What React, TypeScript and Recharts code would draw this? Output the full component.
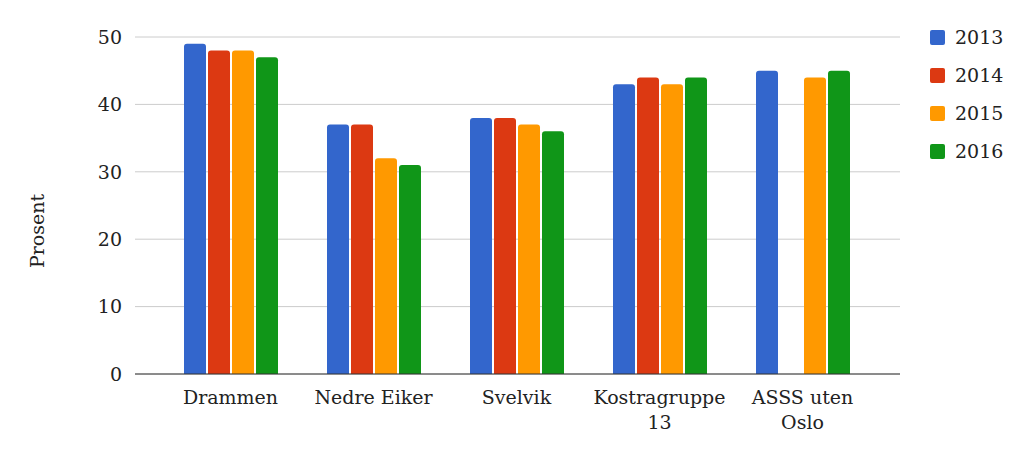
import { BarChart, Bar, XAxis, YAxis, CartesianGrid } from 'recharts'

const categories = ['Drammen', 'Nedre Eiker', 'Svelvik', 'Kostragruppe 13', 'ASSS uten Oslo']
const years = ['2013', '2014', '2015', '2016']
const v2013 = [49, 37, 38, 43, 45]
const v2014: (number | null)[] = [48, 37, 38, 44, null]
const v2015 = [48, 32, 37, 43, 44]
const v2016 = [47, 31, 36, 44, 45]
const yTicks = [0, 10, 20, 30, 40, 50]

const colors = ['#3366CC', '#DC3912', '#FF9900', '#109618']
const font = '"DejaVu Serif", serif'

const data = categories.map((name, i) => ({
  name,
  '2013': v2013[i],
  '2014': v2014[i],
  '2015': v2015[i],
  '2016': v2016[i],
}))

// wrap long category names onto two lines like the original
const lines: Record<string, string[]> = {
  'Kostragruppe 13': ['Kostragruppe', '13'],
  'ASSS uten Oslo': ['ASSS uten', 'Oslo'],
}

function CategoryTick({ x, y, payload }: any) {
  const parts = lines[payload.value] ?? [payload.value]
  return (
    <text x={x} y={y} textAnchor="middle" fontFamily={font} fontSize={19} fill="#222">
      {parts.map((p, i) => (
        <tspan key={i} x={x} dy={i === 0 ? 22 : 25}>{p}</tspan>
      ))}
    </text>
  )
}

function YLabel() {
  return (
    <text x={44} y={231} transform="rotate(-90 44 231)" textAnchor="middle" fontFamily={font} fontSize={19} fill="#222">
      Prosent
    </text>
  )
}

function LegendBox() {
  return (
    <div style={{ position: 'absolute', left: 930, top: 18, fontFamily: font, fontSize: 19, color: '#222' }}>
      {years.map((y, i) => (
        <div key={y} style={{ display: 'flex', alignItems: 'center', height: 38 }}>
          <span style={{ width: 15, height: 15, background: colors[i], borderRadius: 2, marginRight: 10, display: 'inline-block' }} />
          <span>{y}</span>
        </div>
      ))}
    </div>
  )
}

export default function App() {
  return (
    <div style={{ position: 'absolute', left: 0, top: 0, width: 1024, height: 460, background: '#fff' }}>
      <BarChart
        width={1024}
        height={460}
        data={data}
        margin={{ top: 37, right: 124, bottom: 56, left: 0 }}
        barCategoryGap={25}
        barGap={2}
      >
        <CartesianGrid vertical={false} stroke="#cccccc" />
        <XAxis
          dataKey="name"
          height={30}
          tick={<CategoryTick />}
          tickLine={false}
          axisLine={{ stroke: '#333' }}
          padding={{ left: 24, right: 26 }}
          interval={0}
        />
        <YAxis
          width={135}
          domain={[0, 50]}
          ticks={yTicks}
          tickLine={false}
          axisLine={false}
          tickSize={0}
          tickMargin={13}
          tick={{ fontFamily: font, fontSize: 19, fill: '#222' }}
          label={<YLabel />}
        />
        {years.map((y, i) => (
          <Bar key={y} dataKey={y} fill={colors[i]} radius={[3, 3, 0, 0]} isAnimationActive={false} />
        ))}
      </BarChart>
      <LegendBox />
    </div>
  )
}
